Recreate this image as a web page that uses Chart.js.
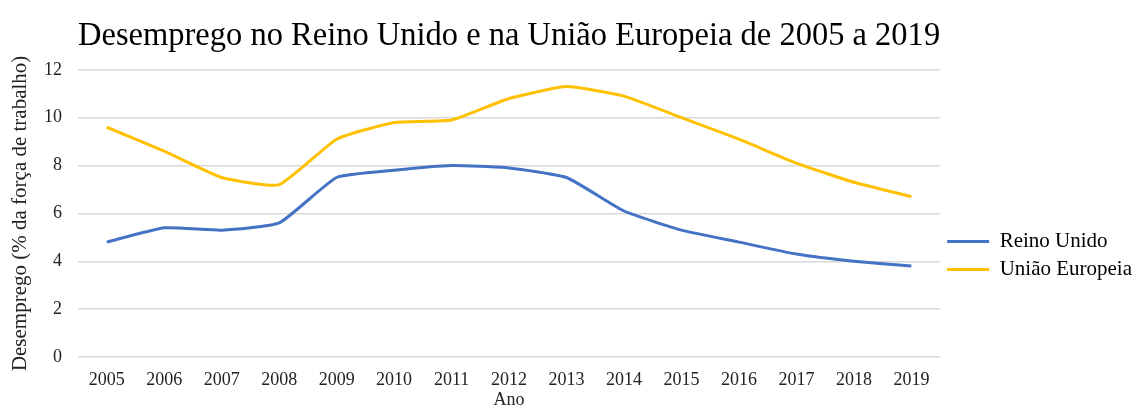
<!DOCTYPE html>
<html lang="pt">
<head>
<meta charset="UTF-8">
<title>Desemprego</title>
<script src="https://cdn.jsdelivr.net/npm/chart.js"></script>
<style>
  html, body { margin: 0; padding: 0; background: #fff; }
  #wrap { width: 1142px; height: 408px; }
</style>
</head>
<body>
<div id="wrap"><canvas id="chart"></canvas></div>
<script>
  const years = ['2005','2006','2007','2008','2009','2010','2011','2012','2013','2014','2015','2016','2017','2018','2019'];
  const reinoUnido = [4.8, 5.4, 5.3, 5.6, 7.5, 7.8, 8.0, 7.9, 7.5, 6.1, 5.3, 4.8, 4.3, 4.0, 3.8];
  const uniaoEuropeia = [9.6, 8.6, 7.5, 7.2, 9.1, 9.8, 9.9, 10.8, 11.3, 10.9, 10.0, 9.1, 8.1, 7.3, 6.7];
  const serif = '"Liberation Serif", "Times New Roman", serif';

  new Chart(document.getElementById('chart'), {
    type: 'line',
    data: {
      labels: years,
      datasets: [
        { label: 'Reino Unido', data: reinoUnido, borderColor: '#4472C4', backgroundColor: '#4472C4',
          borderWidth: 3, pointRadius: 0, tension: 0.15 },
        { label: 'União Europeia', data: uniaoEuropeia, borderColor: '#FFC000', backgroundColor: '#FFC000',
          borderWidth: 3, pointRadius: 0, tension: 0.15 }
      ]
    },
    options: {
      responsive: true,
      maintainAspectRatio: false,
      animation: false,
      layout: { padding: { left: 2, right: 0, top: 0, bottom: 0 } },
      plugins: {
        title: {
          display: true,
          text: 'Desemprego no Reino Unido e na União Europeia de 2005 a 2019',
          fullSize: false,
          color: '#000',
          font: { family: serif, size: 34, weight: 'normal' },
          padding: { top: 16, bottom: 13 }
        },
        legend: {
          position: 'right',
          // empty title only pushes the legend items down a bit
          title: { display: true, text: ' ', font: { size: 10 }, padding: { top: 0, bottom: 91 } },
          labels: {
            color: '#000',
            font: { family: serif, size: 21 },
            usePointStyle: true,
            pointStyle: 'line',
            pointStyleWidth: 42,
            boxHeight: 17,
            padding: 7
          }
        },
        tooltip: { enabled: false }
      },
      scales: {
        x: {
          offset: true,
          grid: { display: false, drawTicks: false },
          border: { display: false },
          ticks: { color: '#222', font: { family: serif, size: 18 }, padding: 12, maxRotation: 0 },
          title: { display: true, text: 'Ano', color: '#222', font: { family: serif, size: 18 },
                   padding: { top: 0, bottom: -3 } },
          afterFit: (scale) => { scale.height = 51; }
        },
        y: {
          min: 0,
          max: 12,
          ticks: { stepSize: 2, color: '#222', font: { family: serif, size: 18 }, padding: 16 },
          grid: { color: '#d9d9d9', lineWidth: 1.5, drawTicks: false },
          border: { display: false },
          title: { display: true, text: 'Desemprego (% da força de trabalho)', color: '#222',
                   font: { family: serif, size: 21 }, padding: 6 },
          afterFit: (scale) => { scale.width = 76; }
        }
      }
    }
  });
</script>
</body>
</html>
